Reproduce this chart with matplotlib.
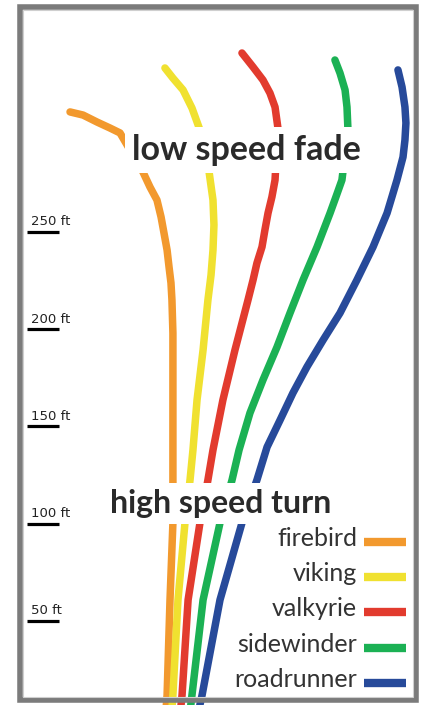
import matplotlib
matplotlib.use("Agg")
import matplotlib.pyplot as plt
from matplotlib.patches import Rectangle

# Flight paths in feet: distance down range (y) and drift left/right (x)
firebird_dist = [5, 11.8, 60.7, 100.3, 137.8, 163.5, 197.9, 214.9, 223.7, 231.9, 240.6, 249.4,
                 257.6, 266.3, 273.0, 280.7, 300.8, 303.3, 306.4, 310.0, 311.6]
firebird_drift = [-2, -1.5, 0, 1.5, 1.5, 1.5, 1.5, 1.0, 0.5, -0.5, -1.5, -3.1,
                  -4.6, -6.7, -10.3, -13.9, -25.7, -30.8, -37.5, -44.7, -51.4]

viking_dist = [5, 11.8, 60.7, 100.3, 122.4, 137.8, 163.5, 189.2, 214.9, 227.8, 240.6, 253.5,
               266.3, 280.7, 302.3, 313.6, 322.9, 329.0, 334.2]
viking_drift = [1, 1.5, 4.1, 7.7, 10.3, 11.8, 13.9, 17.0, 19.5, 21.1, 22.1, 22.6,
                22.1, 20.1, 15.4, 11.3, 6.7, 1.5, -2.6]

valkyrie_dist = [5, 11.8, 60.7, 100.3, 122.4, 137.8, 163.5, 189.2, 214.9, 225.2, 233.9, 242.2,
                 250.9, 259.6, 267.9, 276.6, 303.3, 314.1, 321.3, 328.0, 334.7, 341.9]
valkyrie_drift = [5.5, 6.2, 9.3, 15.4, 19.5, 22.1, 27.2, 33.4, 40.1, 42.7, 44.7, 47.3,
                  48.8, 50.4, 52.4, 54.0, 55.5, 54.0, 51.4, 47.8, 42.7, 37.0]

sidewinder_dist = [5, 11.8, 60.7, 100.3, 122.4, 137.8, 156.8, 173.8, 190.7, 208.2, 225.2, 242.2,
                   259.6, 267.9, 276.6, 302.3, 314.1, 322.9, 331.6, 338.3]
sidewinder_drift = [10.5, 11.3, 17.0, 25.7, 31.9, 35.5, 41.1, 47.8, 55.0, 61.7, 68.4, 75.6,
                    82.3, 85.3, 88.4, 91.5, 91.0, 90.0, 87.4, 84.8]

roadrunner_dist = [5, 11.8, 60.7, 100.3, 122.4, 139.3, 153.2, 167.1, 180.5, 194.3, 208.2, 225.2,
                   242.2, 259.6, 267.9, 276.6, 288.4, 297.2, 305.9, 314.1, 324.4, 333.2]
roadrunner_drift = [15, 16.5, 25.7, 37.0, 44.7, 49.9, 56.6, 63.2, 70.4, 78.7, 87.4, 96.1,
                    104.4, 111.6, 114.1, 116.7, 119.8, 120.8, 121.3, 120.8, 119.3, 117.2]

discs = ["firebird", "viking", "valkyrie", "sidewinder", "roadrunner"]
disc_colors = ["#F2992E", "#F0E130", "#E23B2E", "#1BB154", "#274A9A"]
paths = [
    (firebird_drift, firebird_dist),
    (viking_drift, viking_dist),
    (valkyrie_drift, valkyrie_dist),
    (sidewinder_drift, sidewinder_dist),
    (roadrunner_drift, roadrunner_dist),
]

scale_marks = [50, 100, 150, 200, 250]

# Figure in pixels, axes use feet
W, H = 424, 705
PX_PER_FT = 1.945
X0_PX, Y0_PX = 170, 718

fig = plt.figure(figsize=(W / 100, H / 100), dpi=100)
ax = fig.add_axes([0, 0, 1, 1])
ax.set_xlim(-X0_PX / PX_PER_FT, (W - X0_PX) / PX_PER_FT)
ax.set_ylim((Y0_PX - H) / PX_PER_FT, Y0_PX / PX_PER_FT)
ax.axis("off")


def fx(px):
    return px / W


def fy(py):
    return 1 - py / H


# Flight paths
for (dx, dy), col in zip(paths, disc_colors):
    ax.plot(dx, dy, color=col, lw=5.4, solid_capstyle="round",
            solid_joinstyle="round", zorder=2)

# Distance scale on the left
for ft in scale_marks:
    ax.plot([-73.5, -57], [ft, ft], color="black", lw=2.3,
            solid_capstyle="butt", zorder=2)
    ax.text(-71.5, ft + 3.3, f"{ft} ft", fontsize=9.5, color="#222222",
            family=["DejaVu Sans"], ha="left", va="baseline", zorder=3)

# Labels with white boxes over the lines
ax.text(39.3, 287, "low speed fade", fontsize=24.5, fontweight="bold",
        color="#2a2a2a", family=["Lato", "DejaVu Sans"],
        ha="center", va="baseline", zorder=4,
        bbox=dict(boxstyle="square,pad=0.2", fc="white", ec="none"))
ax.text(26, 105.4, "high speed turn", fontsize=23, fontweight="bold",
        color="#2a2a2a", family=["Lato", "DejaVu Sans"],
        ha="center", va="baseline", zorder=4,
        bbox=dict(boxstyle="square,pad=0.2", fc="white", ec="none"))

# Legend
for i, (name, col) in enumerate(zip(discs, disc_colors)):
    y = 542 + 35.2 * i
    fig.text(fx(357), fy(y + 4), name, fontsize=18, color="#333333",
             family=["Lato", "DejaVu Sans"], ha="right", va="baseline")
    fig.add_artist(plt.Line2D([fx(364), fx(406)], [fy(y), fy(y)],
                              color=col, lw=6, solid_capstyle="butt"))

# Grey frame
fig.add_artist(Rectangle((fx(19.5), fy(700)), fx(415.5) - fx(19.5), fy(6.5) - fy(700),
                         transform=fig.transFigure, fill=False,
                         ec="#7b7b7b", lw=4, zorder=10))
fig.add_artist(Rectangle((fx(22.5), fy(697)), fx(412.5) - fx(22.5), fy(9.5) - fy(697),
                         transform=fig.transFigure, fill=False,
                         ec="#cfcfcf", lw=0.8, zorder=10))

fig.savefig("out.png", dpi=100, facecolor="white")
